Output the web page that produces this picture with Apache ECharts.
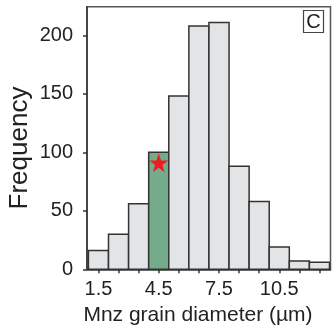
<!DOCTYPE html>
<html>
<head>
<meta charset="utf-8">
<script src="https://cdn.jsdelivr.net/npm/echarts@6/dist/echarts.min.js"></script>
<style>html,body{margin:0;padding:0;background:#fff;}#c{width:332px;height:326px;}</style>
</head>
<body>
<div id="c"></div>
<script>
// Bin centers (µm) and frequencies
const binCenters = [1.5, 2.5, 3.5, 4.5, 5.5, 6.5, 7.5, 8.5, 9.5, 10.5, 11.5, 12.5];
const frequencies = [16, 30, 56, 100, 148, 208, 211, 88, 58, 19, 7, 6];
const highlightBin = 4.5;
const starPoint = [4.5, 91];
const xTickValues = [1.5, 2.5, 3.5, 4.5, 5.5, 6.5, 7.5, 8.5, 9.5, 10.5, 11.5, 12.5];
const xLabelValues = [1.5, 4.5, 7.5, 10.5];
const yTicks = [0, 50, 100, 150, 200];
const panelLabel = 'C';

const binData = binCenters.map((c, i) => [c, frequencies[i]]);
const starPath = 'path://M50,0 L61.8,35.1 L98.1,35.1 L68.8,56.8 L79.4,91.6 L50,70.1 L20.6,91.6 L31.2,56.8 L1.9,35.1 L38.2,35.1 Z';
const FONT = 'Liberation Sans, Arial, sans-serif';

const chart = echarts.init(document.getElementById('c'), null, {renderer: 'canvas'});
chart.setOption({
  animation: false,
  grid: {left: 87, right: 1.5, top: 6.7, bottom: 56.7, show: true, borderColor: '#555', borderWidth: 1.5, backgroundColor: 'transparent'},
  xAxis: {
    type: 'value', min: 0.93, max: 13.05,
    splitLine: {show: false},
    axisLine: {show: true, lineStyle: {color: '#333', width: 1.5}},
    axisTick: {show: true, length: 4, lineStyle: {color: '#333', width: 1.5}, customValues: xTickValues},
    axisLabel: {customValues: xLabelValues, fontSize: 20, color: '#222', margin: 10, fontFamily: FONT,
      formatter: v => v.toFixed(1)}
  },
  yAxis: {
    type: 'value', min: 0, max: 224.4,
    splitLine: {show: false},
    axisLine: {show: true, lineStyle: {color: '#333', width: 1.5}},
    axisTick: {show: true, length: 4, lineStyle: {color: '#333', width: 1.5}, customValues: yTicks},
    axisLabel: {customValues: yTicks, fontSize: 20, color: '#222', margin: 14, fontFamily: FONT}
  },
  series: [
    {
      type: 'custom',
      data: binData,
      renderItem: function (params, api) {
        const c = api.value(0), v = api.value(1);
        const p0 = api.coord([c - 0.5, v]);
        const p1 = api.coord([c + 0.5, 0]);
        return {
          type: 'rect',
          shape: {x: p0[0], y: p0[1], width: p1[0] - p0[0], height: p1[1] - p0[1]},
          style: {fill: c === highlightBin ? '#74ac8b' : '#e3e4e6', stroke: '#333', lineWidth: 1.5}
        };
      },
      z: 2
    },
    {
      type: 'scatter',
      data: [starPoint],
      symbol: starPath,
      symbolSize: 19,
      itemStyle: {color: '#f01c24', opacity: 1},
      z: 5
    }
  ],
  graphic: [
    {type: 'text', x: 198, y: 315, style: {text: 'Mnz grain diameter (µm)', fontSize: 21, fill: '#222', fontFamily: FONT, align: 'center', verticalAlign: 'middle'}},
    {type: 'text', rotation: Math.PI / 2, x: 20, y: 148, style: {text: 'Frequency', fontSize: 26, fill: '#222', fontFamily: FONT, align: 'center', verticalAlign: 'middle'}},
    {type: 'rect', shape: {x: 303.5, y: 10.5, width: 20, height: 22}, style: {fill: '#fff', stroke: '#444', lineWidth: 1.2}},
    {type: 'text', style: {text: panelLabel, x: 313.5, y: 22, fontSize: 20, fill: '#222', fontFamily: FONT, align: 'center', verticalAlign: 'middle'}}
  ]
});
</script>
</body>
</html>
